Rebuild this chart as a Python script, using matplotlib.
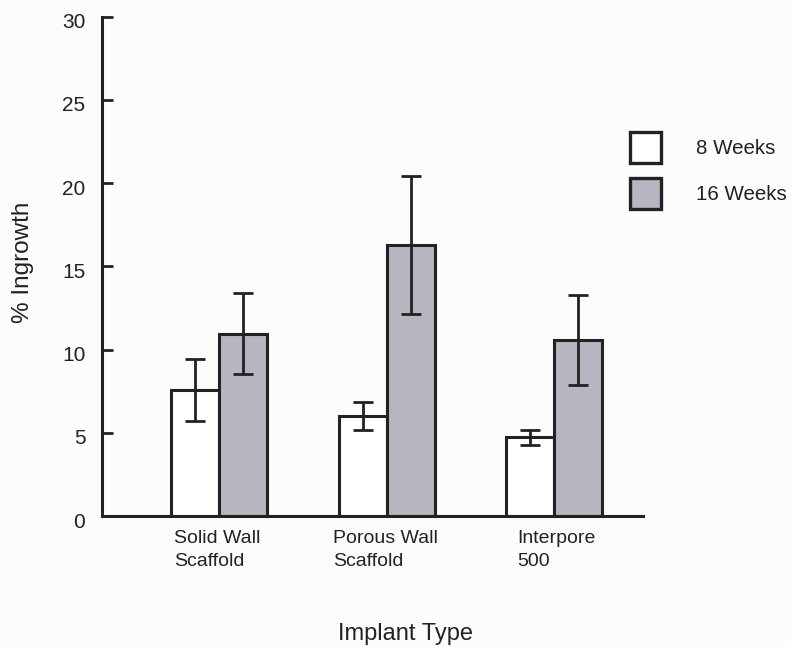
import matplotlib
matplotlib.use("Agg")
import matplotlib.pyplot as plt
from matplotlib.patches import Rectangle
from matplotlib.transforms import ScaledTranslation
import numpy as np

plt.rcParams['font.family'] = ['Liberation Sans', 'DejaVu Sans']

# Data
categories = ["Solid Wall\nScaffold", "Porous Wall\nScaffold", "Interpore\n500"]
series_names = ["8 Weeks", "16 Weeks"]
week8_mean = [7.55, 6.0, 4.72]
week8_err = [1.85, 0.85, 0.43]
week16_mean = [10.95, 16.3, 10.55]
week16_err = [2.45, 4.15, 2.7]
yticks = [0, 5, 10, 15, 20, 25, 30]

edge = "#222222"
gray = "#b6b6c0"
bg = "#fcfcfc"

fig = plt.figure(figsize=(7.91, 6.47), dpi=100, facecolor=bg)
ax = fig.add_axes([102 / 791, 1 - 516 / 647, (643 - 102) / 791, (516 - 16.5) / 647])
ax.set_facecolor(bg)

x = np.arange(len(categories))
w = 0.287
ebar_kw = dict(ecolor=edge, elinewidth=2.0, capsize=7, capthick=2.0)
ax.bar(x - w / 2, week8_mean, w, yerr=week8_err, color="white", edgecolor=edge,
       linewidth=2.2, error_kw=ebar_kw, zorder=2)
ax.bar(x + w / 2, week16_mean, w, yerr=week16_err, color=gray, edgecolor=edge,
       linewidth=2.2, error_kw=ebar_kw, zorder=2)

ax.set_xlim(-0.70, 2.53)
ax.set_ylim(0, 30)
ax.set_yticks(yticks)
ax.set_yticklabels([str(t) for t in yticks], fontsize=15, color="#222222")
ax.tick_params(axis="y", direction="in", length=8, width=2, color=edge, pad=12)
# nudge the y tick labels slightly downward
shift = ScaledTranslation(0, -3 / 72, fig.dpi_scale_trans)
for lab in ax.get_yticklabels():
    lab.set_transform(lab.get_transform() + shift)
ax.set_xticks([])

for s in ["top", "right"]:
    ax.spines[s].set_visible(False)
for s in ["left", "bottom"]:
    ax.spines[s].set_linewidth(2.2)
    ax.spines[s].set_color(edge)

# Category labels under each group
label_x = [174, 333, 517]
for lx, lab in zip(label_x, categories):
    fig.text(lx / 791, 1 - 530 / 647, lab, ha="left", va="top", fontsize=14,
             color="#222222", linespacing=1.45)

fig.text(406 / 791, 1 - 634 / 647, "Implant Type", ha="center", va="center",
         fontsize=17, color="#222222")
fig.text(23 / 791, 1 - 262 / 647, "% Ingrowth", ha="center", va="center",
         rotation=90, fontsize=17.5, color="#222222")

# Legend
for (y0, fc, name) in [(132, "white", series_names[0]), (178, gray, series_names[1])]:
    fig.add_artist(Rectangle((630 / 791, 1 - (y0 + 31) / 647), 31 / 791, 31 / 647,
                             transform=fig.transFigure, facecolor=fc,
                             edgecolor=edge, linewidth=2.4))
    fig.text(696 / 791, 1 - (y0 + 16) / 647, name, ha="left", va="center",
             fontsize=14.8, color="#222222")

fig.savefig("out.png", dpi=100, facecolor=bg)
